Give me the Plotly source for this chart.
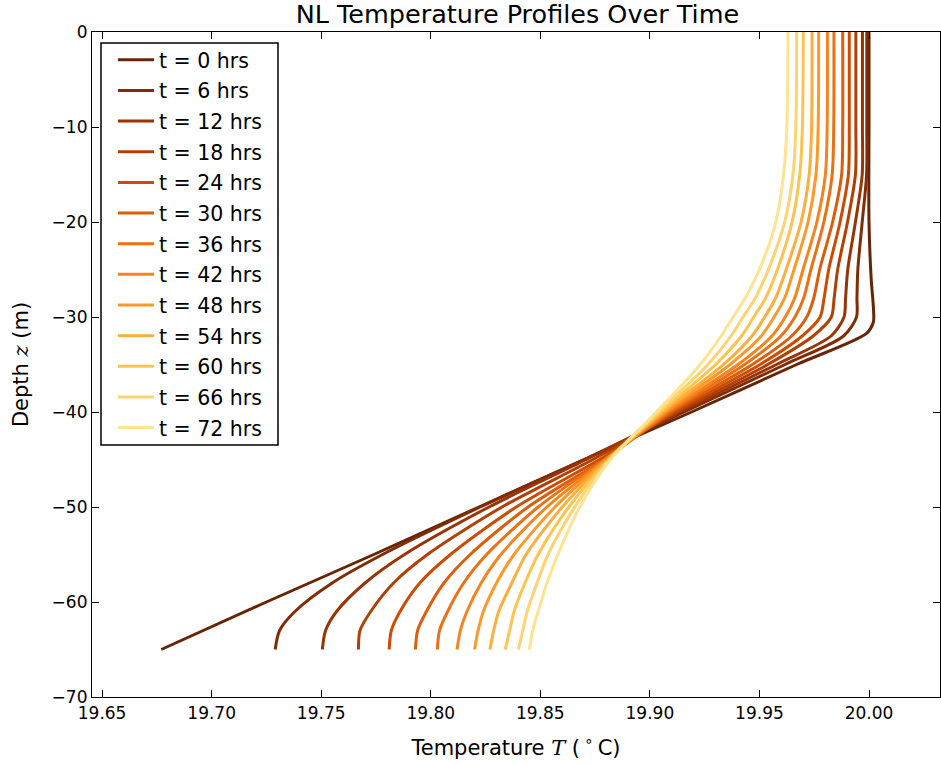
import plotly.graph_objects as go
from plotly.colors import sample_colorscale

# Hours since start for each profile
hours = [0, 6, 12, 18, 24, 30, 36, 42, 48, 54, 60, 66, 72]

# Initial profile (finer depth spacing around the base of the mixed layer)
depth_init = [0, -10, -20, -26, -29, -30.5, -31.7, -35, -40, -45, -50, -55, -60, -65]
temp_init = [20.000, 20.000, 20.000, 20.001, 20.002, 20.002, 19.999, 19.967,
             19.919, 19.870, 19.822, 19.774, 19.725, 19.677]

# Depth grid (m) for the later profiles
depth = [0, -10, -15, -20, -25, -28, -30, -32, -35, -40, -45, -50, -55, -58, -61, -63, -65]

# Temperature (deg C) at each depth for t = 6 ... 72 hrs
temp_06 = [19.999, 19.999, 19.9989, 19.9969, 19.9949, 19.9945, 19.9943, 19.9884, 19.9617,
           19.9156, 19.870, 19.8226, 19.778, 19.755, 19.738, 19.731, 19.729]
temp_12 = [19.997, 19.997, 19.9969, 19.9938, 19.9903, 19.9893, 19.9886, 19.9827, 19.9578,
           19.9138, 19.871, 19.8266, 19.788, 19.770, 19.757, 19.752, 19.7505]
temp_18 = [19.994, 19.994, 19.9938, 19.9902, 19.9857, 19.9841, 19.9828, 19.9745, 19.9538,
           19.9123, 19.874, 19.8325, 19.7985, 19.783, 19.7726, 19.7677, 19.767]
temp_24 = [19.991, 19.991, 19.9906, 19.9868, 19.9816, 19.9795, 19.9777, 19.9695, 19.9503,
           19.9110, 19.877, 19.839, 19.809, 19.795, 19.786, 19.782, 19.781]
temp_30 = [19.988, 19.988, 19.9875, 19.9834, 19.9775, 19.9748, 19.9716, 19.9647, 19.9468,
           19.9098, 19.879, 19.8444, 19.818, 19.806, 19.798, 19.794, 19.793]
temp_36 = [19.984, 19.9839, 19.9832, 19.9794, 19.9735, 19.9702, 19.9662, 19.9598, 19.9432,
           19.9087, 19.8794, 19.849, 19.8255, 19.815, 19.8077, 19.804, 19.803]
temp_42 = [19.981, 19.9809, 19.9801, 19.9762, 19.9699, 19.9661, 19.9618, 19.9557, 19.9402,
           19.9077, 19.880, 19.853, 19.832, 19.823, 19.8165, 19.8135, 19.812]
temp_48 = [19.977, 19.9768, 19.9758, 19.9722, 19.9658, 19.9615, 19.9567, 19.9508, 19.9366,
           19.9067, 19.8804, 19.8567, 19.838, 19.830, 19.824, 19.8216, 19.820]
temp_54 = [19.974, 19.9738, 19.9727, 19.9690, 19.9622, 19.9574, 19.9524, 19.9466, 19.9336,
           19.9058, 19.881, 19.860, 19.8435, 19.837, 19.831, 19.8287, 19.827]
temp_60 = [19.970, 19.9696, 19.9684, 19.9649, 19.9582, 19.9528, 19.9474, 19.9418, 19.9300,
           19.9048, 19.8813, 19.863, 19.849, 19.843, 19.838, 19.836, 19.834]
temp_66 = [19.967, 19.9666, 19.9653, 19.9615, 19.9541, 19.9481, 19.9425, 19.9370, 19.9265,
           19.9039, 19.8816, 19.8657, 19.8535, 19.8485, 19.844, 19.842, 19.840]
temp_72 = [19.963, 19.9625, 19.961, 19.9575, 19.950, 19.9435, 19.938, 19.9325, 19.923,
           19.903, 19.882, 19.868, 19.858, 19.853, 19.849, 19.8465, 19.845]

later = [temp_06, temp_12, temp_18, temp_24, temp_30, temp_36, temp_42,
         temp_48, temp_54, temp_60, temp_66, temp_72]

x_ticks = [19.65, 19.70, 19.75, 19.80, 19.85, 19.90, 19.95, 20.00]
y_ticks = [0, -10, -20, -30, -40, -50, -60, -70]

# Dark brown for the start, fading to pale yellow at the end
positions = [1.0 - 0.75 * k / (len(hours) - 1) for k in range(len(hours))]
colors = sample_colorscale("YlOrBr", positions)

fig = go.Figure()
profiles = [(depth_init, temp_init)] + [(depth, t) for t in later]
for k, (h, (z, temps)) in enumerate(zip(hours, profiles)):
    fig.add_trace(go.Scatter(
        x=temps, y=z, mode="lines",
        line=dict(color=colors[k], width=3, shape="spline", smoothing=0.8),
        name=f"t = {h} hrs", legendgroup=f"g{h}",
    ))

axis_common = dict(
    showline=True, linecolor="black", linewidth=1.2, mirror="ticks",
    ticks="inside", ticklen=7, tickwidth=1, tickcolor="black",
    showgrid=False, zeroline=False,
    tickfont=dict(family="DejaVu Sans", size=17, color="black"),
)

italic = "font-family:'DejaVu Serif';font-style:italic;font-size:21px"

fig.update_layout(
    width=941, height=765,
    margin=dict(l=92, r=1, t=32, b=68),
    paper_bgcolor="white", plot_bgcolor="white",
    title=dict(text="NL Temperature Profiles Over Time", x=0.5499, xanchor="center",
               y=0.982, yanchor="middle",
               font=dict(family="DejaVu Sans", size=25.5, color="black")),
    xaxis=dict(range=[19.6454, 20.0324], tickvals=x_ticks,
               ticktext=[f"{v:.2f}" for v in x_ticks],
               title=dict(text=f"Temperature <span style=\"{italic}\">T</span> (\u2009<sup>∘</sup>\u2009C)",
                          font=dict(family="DejaVu Sans", size=21, color="black"), standoff=18),
               **axis_common),
    yaxis=dict(range=[-70, 0], tickvals=y_ticks,
               title=dict(text=f"Depth <span style=\"{italic}\">z</span> (m)",
                          font=dict(family="DejaVu Sans", size=21, color="black"), standoff=17),
               **axis_common),
    legend=dict(x=(113 - 92) / 848, y=0.988, xanchor="left", yanchor="top",
                borderwidth=0, bgcolor="rgba(0,0,0,0)",
                font=dict(family="DejaVu Sans", size=20.5, color="black"),
                traceorder="grouped", tracegroupgap=1, itemwidth=36),
    # frame around the legend
    shapes=[dict(type="rect", xref="paper", yref="paper",
                 x0=(101 - 92) / 848, x1=(278 - 92) / 848,
                 y0=1 - (445 - 32) / 665, y1=1 - (43 - 32) / 665,
                 line=dict(color="black", width=1.5), fillcolor="rgba(0,0,0,0)",
                 layer="above")],
    showlegend=True,
)

fig.write_html("out.html")
